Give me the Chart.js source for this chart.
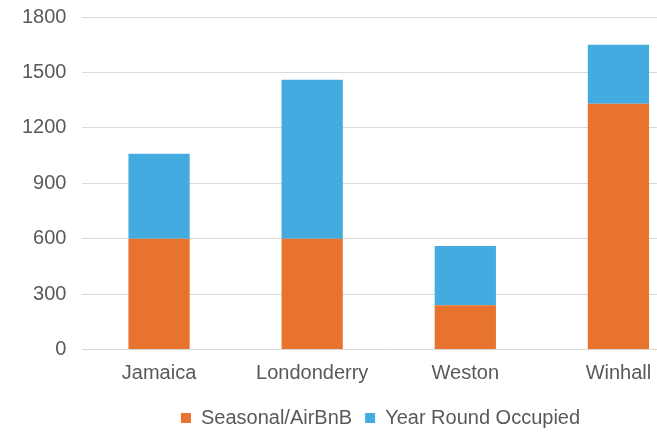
<!DOCTYPE html>
<html>
<head>
<meta charset="utf-8">
<script src="https://cdn.jsdelivr.net/npm/chart.js@4.4.1/dist/chart.umd.min.js"></script>
<style>
  html, body { margin: 0; padding: 0; background: #ffffff; overflow: hidden; }
  #wrap { width: 700px; height: 432px; }
</style>
</head>
<body>
<div id="wrap"><canvas id="chart" width="700" height="432"></canvas></div>
<script>
// Housing units by town, split by occupancy type
const towns = ['Jamaica', 'Londonderry', 'Weston', 'Winhall'];
const seasonalAirbnb = [600, 600, 240, 1330];
const yearRoundOccupied = [460, 860, 320, 320];
const yTicks = [0, 300, 600, 900, 1200, 1500, 1800];

const FONT = '"Liberation Sans", Arial, Helvetica, sans-serif';
const TEXT = '#595959';

// nudges the centred legend row
const legendOffset = {
  id: 'legendOffset',
  afterLayout(chart) {
    const lg = chart.legend;
    if (!lg) return;
    const { dx, dy } = chart.options.plugins.legendOffset;
    lg.left += dx;
    lg.right += dx;
    lg.top += dy;
    lg.bottom += dy;
  }
};

new Chart(document.getElementById('chart'), {
  type: 'bar',
  data: {
    labels: towns,
    datasets: [
      {
        label: 'Seasonal/AirBnB',
        data: seasonalAirbnb,
        backgroundColor: '#E8732F',
        borderWidth: 0
      },
      {
        label: 'Year Round Occupied',
        data: yearRoundOccupied,
        backgroundColor: '#43ABDF',
        borderWidth: 0
      }
    ]
  },
  options: {
    responsive: false,
    animation: false,
    devicePixelRatio: 1,
    layout: { padding: { left: 6, right: 5, top: 0, bottom: -8.5 } },
    datasets: {
      bar: { categoryPercentage: 0.8, barPercentage: 0.5 }
    },
    scales: {
      x: {
        stacked: true,
        grid: { display: false, drawTicks: false },
        border: { display: false },
        ticks: {
          color: TEXT,
          font: { family: FONT, size: 20 },
          padding: 12,
          maxRotation: 0
        }
      },
      y: {
        stacked: true,
        min: 0,
        max: 1800,
        afterBuildTicks(scale) {
          scale.ticks = yTicks.map(v => ({ value: v }));
        },
        afterFit(scale) {
          scale.paddingTop = 17;
          scale.paddingBottom = 0;
        },
        grid: { color: '#d9d9d9', lineWidth: 1, drawTicks: false },
        border: { display: false },
        ticks: {
          color: TEXT,
          font: { family: FONT, size: 20 },
          padding: 16,
          callback: v => String(v)
        }
      }
    },
    plugins: {
      legendOffset: { dx: 30, dy: -2.5 },
      tooltip: { enabled: false },
      legend: {
        position: 'bottom',
        labels: {
          color: TEXT,
          font: { family: FONT, size: 20 },
          boxWidth: 10,
          boxHeight: 10,
          padding: 13
        }
      }
    }
  },
  plugins: [legendOffset]
});
</script>
</body>
</html>
